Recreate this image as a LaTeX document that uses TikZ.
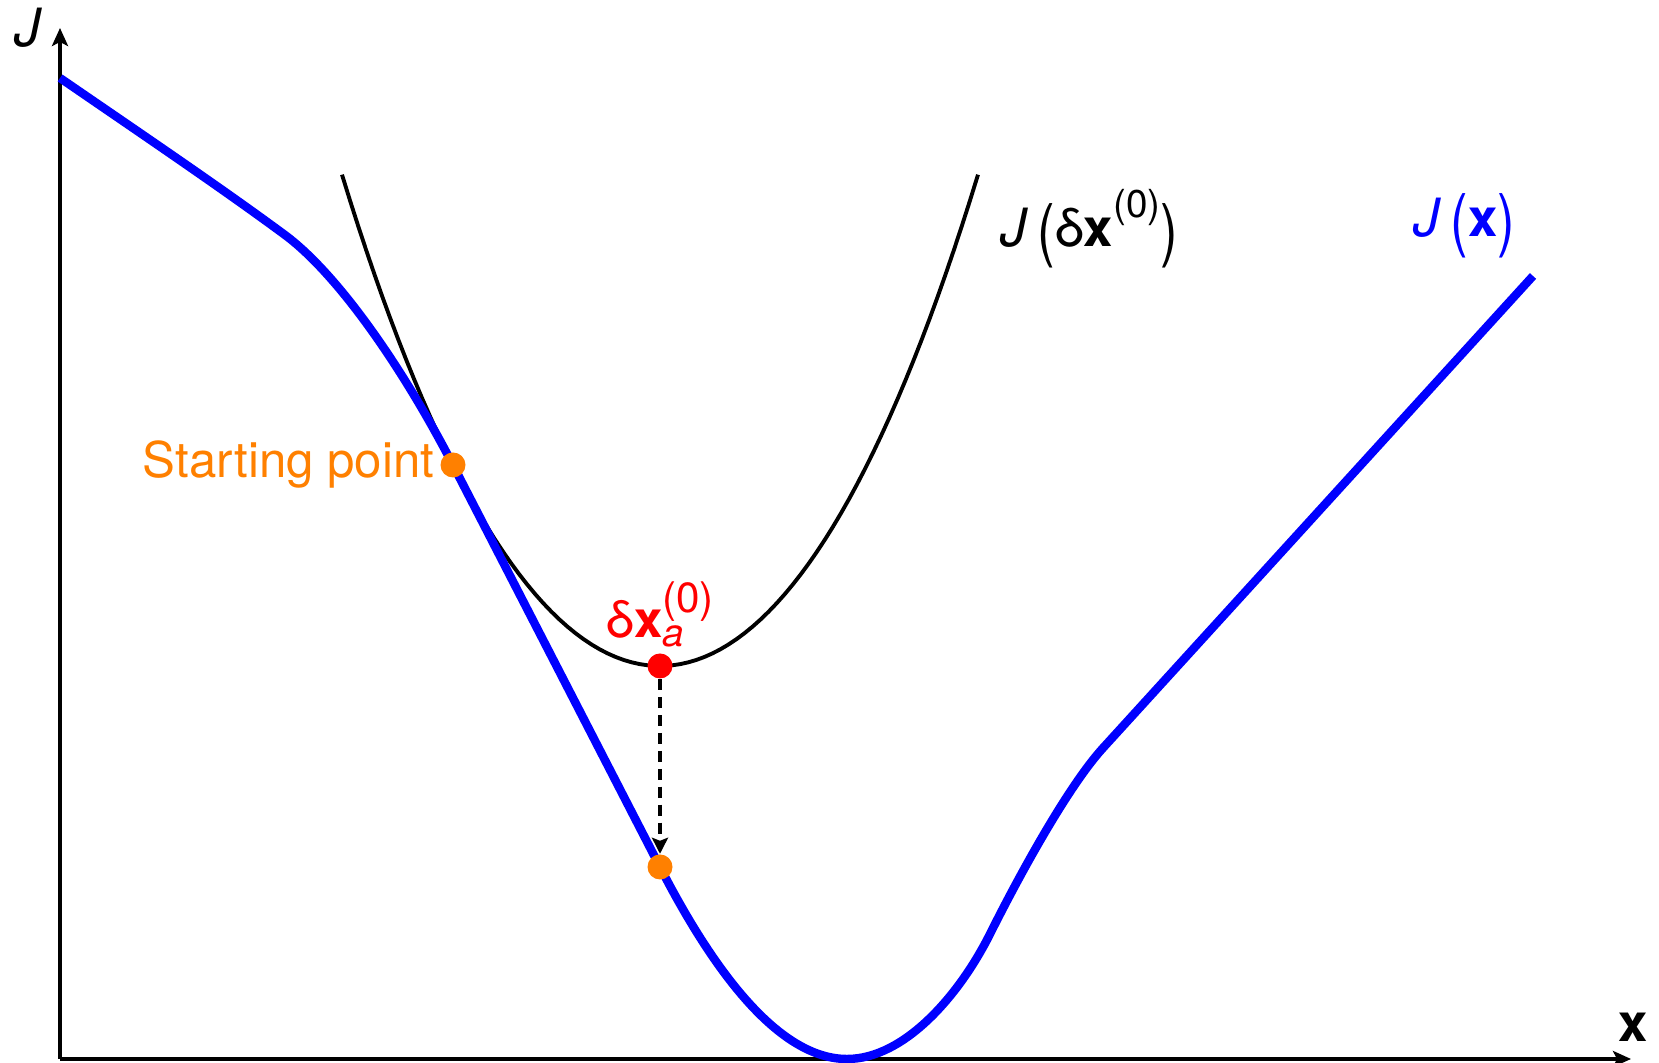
\documentclass[tikz,border=0pt]{standalone}
\usepackage{graphicx}
\usepackage{fontspec}
\setmainfont{TeX Gyre Heros}
\usetikzlibrary{arrows.meta,positioning}
\definecolor{ptorange}{RGB}{255,128,0}
\newcommand{\supsub}[2]{\rlap{\raisebox{-.17em}{\fontsize{11}{12}\selectfont#2}}\raisebox{.5em}{\fontsize{12}{13}\selectfont#1}}
\newcommand{\upidx}[1]{\raisebox{.55em}{\fontsize{11}{12}\selectfont#1}}
\newcommand{\tallparen}[1]{\raisebox{-0.12em}{\scalebox{1}[1.3]{#1}}}
\tikzset{
  axis/.style={line width=1.1pt,-{Stealth[length=1.8mm,width=1.6mm,inset=.4mm]}},
  costcurve/.style={blue,line width=2.4pt},
  quadcurve/.style={black,line width=1.1pt},
  drop/.style={line width=1.1pt,dash pattern=on 3.2pt off 1.9pt,-{Stealth[length=1.6mm,width=1.6mm,inset=.3mm]}},
  dot/.style={circle,inner sep=0pt,minimum size=2.5mm},
  lbl/.style={font=\fontsize{15}{18}\selectfont},
}
\begin{document}
\begin{tikzpicture}[x=1cm,y=1cm,lbl]
\useasboundingbox (-0.60,-0.04) rectangle (15.99,10.59);
\coordinate (O) at (0,0);\coordinate (Yend) at (0,10.31);\coordinate (Xend) at (15.71,0);
\coordinate (s0) at (3.93,5.94);\coordinate (q0) at (6,1.92);\coordinate (r0) at (6,3.93);
\draw[axis] (O)--(Yend);
\draw[axis] (O)--(Xend);
\node (Jlab) at (-0.32,10.31) {\textit{J}};
\node (xlab) at (15.73,0.32) {\textbf{x}};
% quadratic model
\draw[quadcurve,domain=2.82:9.18,samples=80] plot (\x,{3.93+0.457*(\x-6)^2+0.00285*(\x-6)^4});
% cost function
\draw[costcurve] (0,9.81) .. controls (0.8,9.26) and (1.6,8.72) .. (2.25,8.24)
  .. controls (2.80,7.83) and (3.45,6.87) .. (s0) -- (q0)
  .. controls (6.55,0.85) and (7.2,0) .. (7.87,0) .. controls (8.45,0) and (9.0,0.65) .. (9.30,1.25)
  .. controls (9.6,1.85) and (10.08,2.725) .. (10.43,3.11) -- (14.73,7.83);
\node[dot,fill=ptorange] (S) at (s0) {};
\node[dot,fill=red] (R) at (r0) {};
\node[dot,fill=ptorange] (Q) at (q0) {};
\draw[drop] (R) -- (Q);
\node[left=0mm of S,text=ptorange,inner sep=.5mm,font=\fontsize{14}{17}\selectfont] (start) {Starting point};
\node[above=0.5mm of R,text=red,inner sep=0pt,font=\fontsize{14.5}{17}\selectfont] (dxa) {δ\textbf{x}\supsub{(0)}{\textit{a}}};
\node[anchor=base west,inner sep=0pt] (Jq) at (9.40,8.12) {\textit{J}\,\tallparen{(}δ\textbf{x}\upidx{(0)}\tallparen{)}};
\node[anchor=base west,inner sep=0pt,text=blue] (Jc) at (13.53,8.22) {\textit{J}\,\tallparen{(}\textbf{x}\tallparen{)}};
\end{tikzpicture}
\end{document}
